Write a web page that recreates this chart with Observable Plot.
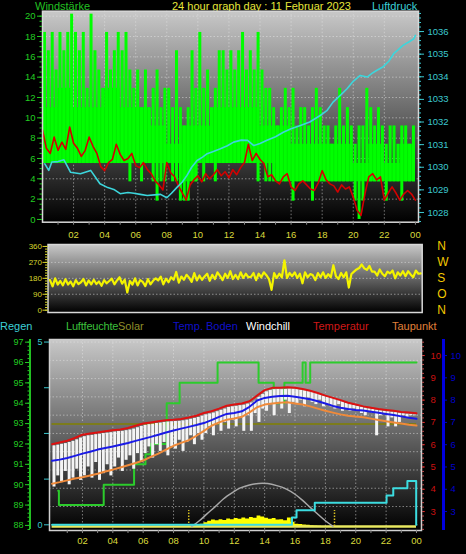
<!DOCTYPE html>
<html><head><meta charset="utf-8">
<script src="https://cdn.jsdelivr.net/npm/d3@7"></script>
<script src="https://cdn.jsdelivr.net/npm/@observablehq/plot@0.6"></script>
<style>
html,body{margin:0;padding:0;background:#000}
body{width:466px;height:554px;position:relative;overflow:hidden;font-family:"Liberation Sans",Arial,sans-serif}
.t{position:absolute;white-space:nowrap;line-height:12px;font-size:11px}
.panel{position:absolute;left:0;width:466px}
.panel svg{position:absolute;left:0;top:0}
.bar{position:absolute}
</style></head><body>
<div class="t" style="left:35px;top:0px;color:#22c022">Windstärke</div>
<div class="t" style="left:172px;top:0px;color:#e6e63a">24 hour graph day : 11 Februar 2023</div>
<div class="t" style="left:372px;top:0px;color:#3ccfd6">Luftdruck</div>
<div id="top" class="panel" style="top:0;height:245px"></div>
<div id="mid" class="panel" style="top:236px;height:80px"></div>
<div class="t" style="left:0;top:320px;color:#3ccfd6">Regen</div>
<div class="t" style="left:66px;top:320px;color:#3cc03c;letter-spacing:-0.2px">Luftfeuchte</div>
<div class="t" style="left:118px;top:320px;color:#8f8f2a">Solar</div>
<div class="t" style="left:173px;top:320px;color:#1010c8">Temp. Boden</div>
<div class="t" style="left:246px;top:320px;color:#ffffff">Windchill</div>
<div class="t" style="left:313px;top:320px;color:#d01818">Temperatur</div>
<div class="t" style="left:392px;top:320px;color:#e0803a">Taupunkt</div>
<div id="bot" class="panel" style="top:332px;height:222px"></div>
<div class="bar" style="left:29px;top:339px;width:2px;height:190px;background:#22c022"></div>
<div class="bar" style="left:442px;top:339px;width:2.5px;height:191px;background:#0000e0"></div>
<script>
const FONT = '"Liberation Sans", Arial, sans-serif';

// ---------- shared ticks ----------
const hourLabels = [2,4,6,8,10,12,14,16,18,20,22,24];
const hourGrid = [2,4,6,8,10,12,14,16,18,20,22];
const hourMinor = d3.range(1, 25);
const fmtHour = d => String(d % 24).padStart(2, "0");

// ---------- top panel: Windstärke (15-min bins) ----------
const gustHi = [
 18.4,16.6,18.4,14.7,18.4,16.6,18.4,20.2,18.4,16.6,18.4,12.9,
 20.2,16.6,14.7,12.9,18.4,14.7,16.6,18.4,16.6,18.4,14.7,12.9,
 14.7,11.0,14.7,11.0,12.9,14.7,11.0,12.9,12.9,11.0,16.6,11.0,
 9.2,11.0,16.6,12.9,18.4,12.9,14.7,11.0,12.9,16.6,16.6,14.7,
 16.6,14.7,16.6,18.4,14.7,16.6,14.7,18.4,14.7,12.9,12.9,11.0,
 9.2,11.0,12.9,11.0,12.9,9.2,11.0,11.0,9.2,11.0,12.9,11.0,
 9.2,9.2,7.4,9.2,12.9,9.2,11.0,9.2,7.4,9.2,9.2,12.9,
 11.0,9.2,11.0,9.2,7.4,9.2,9.2,7.4,9.2,9.2,7.4,9.2];
const gustLo = [
 5.5,5.5,5.5,5.5,5.5,5.5,5.5,5.5,5.5,5.5,5.5,5.5,
 5.5,5.5,5.5,5.5,5.5,5.5,5.5,5.5,5.5,5.5,3.7,5.5,
 5.5,3.7,5.5,5.5,3.7,1.8,3.7,3.7,5.5,3.7,3.7,1.8,
 1.8,1.8,3.7,3.7,5.5,3.7,5.5,5.5,3.7,5.5,5.5,5.5,
 5.5,5.5,5.5,5.5,5.5,5.5,5.5,3.7,5.5,3.7,3.7,3.7,
 3.7,3.7,3.7,3.7,1.8,3.7,3.7,3.7,3.7,1.8,3.7,3.7,
 3.7,3.7,3.7,3.7,3.7,3.7,3.7,3.7,1.8,0.0,1.8,3.7,
 3.7,3.7,3.7,3.7,1.8,3.7,3.7,3.7,1.8,3.7,3.7,3.7];
// hourly dense band of the gust trace
const gustBase = [5.5,5.5,5.5,5.5,5.5,5.5,5.5,5.5,5.5,3.7,5.5,5.5,5.5,5.5,5.5,3.7,3.7,3.7,3.7,3.7,3.7,3.7,3.7,3.7];
const gustTop  = [11.0,12.9,11.0,11.0,12.9,11.0,11.0,9.2,7.4,9.2,9.2,11.0,11.0,11.0,9.2,9.2,7.4,7.4,7.4,7.4,5.5,7.4,5.5,7.4];
// mean wind (red), every 15 min
const windAvgV = [
 8.8,7.0,6.5,8.1,6.8,7.6,6.9,9.1, 7.5,7.0,6.2,6.8,8.1,7.2,6.5,5.2,
 4.8,5.6,5.9,7.4,6.4,5.8,6.0,6.5, 5.3,5.1,5.6,4.9,4.5,3.8,3.4,2.9,
 5.6,4.6,4.2,3.3,2.6,1.9,3.4,3.9, 4.3,3.7,4.5,4.0,4.4,4.9,4.3,4.7,
 4.1,4.9,4.4,5.1,5.6,7.4,5.8,6.5, 5.9,5.5,4.2,4.4,3.8,3.5,4.2,4.5,
 3.2,2.85,3.5,3.8,3.4,3.0,2.85,3.6, 4.8,3.9,3.5,3.3,2.7,3.4,3.0,3.2,
 2.2,0.9,0.4,2.5,4.2,4.5,3.9,4.2, 1.9,2.6,3.2,2.6,1.9,2.5,2.85,2.5,
 1.9];
// Luftdruck (cyan)
const pressT = [0.15,0.4,0.6,1.0,1.38,1.8,2.44,3.1,3.7,4.2,4.59,5.0,5.5,5.88,6.3,6.74,7.2,7.6,8.0,8.3,8.67,9.0,9.3,9.6,9.95,10.3,10.6,11.0,11.45,11.9,12.3,12.8,13.2,13.6,14.0,14.45,15.0,15.5,16.0,16.6,17.2,17.9,18.3,18.7,19.2,19.6,20.0,20.45,20.9,21.2,21.5,21.9,22.3,22.6,22.9,23.2,23.6,23.9,24.0];
const pressV = [1030.15,1029.86,1030.23,1030.25,1030.33,1029.78,1029.71,1029.86,1029.27,1029.1,1029.02,1028.83,1028.88,1028.85,1028.8,1028.75,1028.78,1028.8,1028.65,1028.85,1029.12,1029.35,1029.64,1030.0,1030.3,1030.45,1030.6,1030.7,1030.82,1030.95,1031.11,1031.2,1031.19,1030.96,1031.05,1031.19,1031.35,1031.55,1031.7,1031.85,1032.0,1032.3,1032.5,1032.88,1033.2,1033.47,1033.8,1034.06,1033.99,1034.15,1034.28,1034.43,1034.7,1035.02,1035.2,1035.39,1035.55,1035.68,1035.83];

// ---------- middle panel: Windrichtung (10-min) ----------
const windDir = [
 170,135,180,145,165,140, 175,145,162,135,170,148, 158,176,140,168,146,172, 148,162,138,170,152,165,
 178,146,168,186,150,172, 100,165,145,180,140,170, 160,136,176,146,166,180, 168,190,146,178,158,186,
 172,216,156,190,172,200, 184,160,210,168,196,172, 190,206,166,200,176,214, 194,170,206,182,220,176,
 200,176,214,182,206,186, 188,210,170,206,186,214, 198,176,115,210,182,206, 186,282,182,210,192,214,
 182,206,152,214,186,204, 198,170,210,186,214,182, 204,186,254,192,176,210, 186,214,128,204,218,230,
 238,258,236,228,250,218, 218,196,230,206,192,218, 208,224,180,214,196,220, 192,220,202,186,224,206,
 208];
const dirLabels = {0:"N", 90:"O", 180:"S", 270:"W", 360:"N"};

// ---------- bottom panel ----------
// half-hourly temperatures
const temperatur = [6.02,6.10,6.18,6.30,6.45,6.50,6.55,6.60,6.65,6.68,6.75,6.85,6.95,7.00,7.05,7.10,7.12,7.15,7.22,7.30,7.42,7.50,7.62,7.75,7.80,7.85,7.95,8.20,8.45,8.55,8.55,8.58,8.55,8.50,8.42,8.32,8.20,8.10,8.00,7.88,7.80,7.72,7.66,7.60,7.56,7.52,7.47,7.44,7.41];
const tempBoden = [5.28,5.33,5.40,5.50,5.60,5.68,5.78,5.85,5.92,6.00,6.08,6.17,6.26,6.35,6.45,6.55,6.64,6.72,6.80,6.88,6.97,7.10,7.25,7.38,7.42,7.50,7.70,7.98,8.10,8.15,8.18,8.20,8.15,8.10,8.04,7.95,7.85,7.74,7.66,7.60,7.56,7.53,7.48,7.43,7.38,7.33,7.27,7.21,7.16];
const taupunkt = [4.25,4.32,4.40,4.48,4.54,4.62,4.70,4.80,4.88,4.98,5.08,5.18,5.29,5.45,5.60,5.78,5.95,6.08,6.20,6.40,6.62,6.85,7.00,7.12,7.18,7.25,7.45,7.68,7.80,7.85,7.88,7.90,7.85,7.80,7.72,7.62,7.52,7.44,7.36,7.30,7.26,7.23,7.17,7.11,7.05,7.00,6.95,6.90,6.86];
// windchill range per 15-min
const windchillHi = [
 5.95,5.98,6.02,6.05,6.10,6.15,6.22,6.30, 6.36,6.40,6.42,6.45,6.47,6.50,6.52,6.54,
 6.57,6.59,6.60,6.63,6.66,6.70,6.76,6.82, 6.87,6.90,6.92,6.95,6.97,7.00,7.02,7.03,
 7.04,7.05,7.07,7.10,7.14,7.18,7.22,7.28, 7.34,7.38,7.42,7.48,7.54,7.60,7.67,7.70,
 7.72,7.75,7.77,7.82,7.87,7.95,8.12,8.25, 8.37,8.43,8.47,8.48,8.47,8.48,8.50,8.49,
 8.47,8.44,8.42,8.38,8.34,8.29,8.24,8.18, 8.12,8.07,8.02,7.97,7.92,7.86,7.80,7.76,
 7.72,7.68,7.64,7.61,7.58,7.55,7.52,7.50, 7.48,7.46,7.44,7.42,7.39,7.37,7.35,7.33];
const windchillLo = [
 4.1,4.6,4.3,4.8,4.2,4.5,4.9,4.4, 4.6,5.0,4.5,5.2,4.4,4.7,5.1,4.6,
 5.0,5.4,4.8,5.3,5.5,4.9,5.6,5.2, 5.6,5.9,5.4,6.0,5.7,6.1,5.5,5.9,
 5.8,6.2,5.7,6.1,6.4,6.0,6.5,6.2, 6.5,6.8,6.4,6.9,6.6,7.0,6.7,7.1,
 6.8,7.2,6.6,7.3,6.6,7.4,7.0,7.6, 7.5,7.8,7.3,7.9,7.6,8.0,7.4,7.9,
 7.8,8.0,7.7,8.1,7.9,7.8,8.0,7.7, 7.8,7.7,7.6,7.8,7.5,7.6,7.5,7.6,
 7.5,7.4,7.3,7.5,7.4,6.4,7.3,7.4, 6.8,7.2,6.8,7.0,7.3,7.2,7.3,7.3];
// Luftfeuchte steps
const luftfeuchteT = [0.4,0.45,3.4,5.4,6.15,6.5,7.55,8.4,10.9,13.6,14.6,15.3,16.5,16.7,17.0,24.0];
const luftfeuchteV = [89.7,89,90,91,91.5,92,94,95,96,95,94,95,96,95,96,96];
// Regen steps (mm)
const regenT = [0,15.8,16.1,17.3,22.03,22.47,23.4,23.98,24.0];
const regenV = [0,0.2,0.4,0.6,0.8,1.0,1.2,0,0];
// Solar (W/m², every 15 min from 09:00)
const solarV = [0,2,6,12,20,28,34,30,36,32,40,36,42,38,45,40,48,44,55,50,44,38,42,34,36,30,45,22,12,10,8,6,4,2,1,0,0];
const solarMaxT = [9.2,9.7,10.2,10.8,11.3,11.9,12.4,13.0,13.6,14.2,14.8,15.4,16.0,16.5,17.0,17.6,18.0,18.5];
const solarMaxV = [0,30,67,110,148,182,206,222,230,229,218,201,172,139,102,58,30,0];
const sunEvents = [9.0, 18.6];
const solarRef = [548];

// ---------- tables ----------
const gust = gustHi.map((h, i) => ({t: i / 4 + 0.125, lo: gustLo[i], hi: h}));
const gustBand = gustBase.map((b, i) => ({t: i, lo: b, hi: gustTop[i]})).concat([{t: 24, lo: gustBase[23], hi: gustTop[23]}]);
const windAvg = windAvgV.map((v, i) => ({t: i / 4, v}));
const press = pressT.map((t, i) => ({t, v: pressV[i]}));
const dir = windDir.map((v, i) => ({t: i / 6, v}));
const half = (arr) => arr.map((v, i) => ({t: i / 2, v}));
const wc = windchillHi.map((h, i) => ({t: i / 4 + 0.125, lo: windchillLo[i], hi: h}));
const hum = luftfeuchteT.map((t, i) => ({t, v: luftfeuchteV[i]}));
const rain = regenT.map((t, i) => ({t, v: regenV[i]}));
const solar = solarV.map((v, i) => ({t: 9 + i / 4, v}));
const solarMax = solarMaxT.map((t, i) => ({t, v: solarMaxV[i]}));

// ---------- helpers ----------
function addGrad(svg, id) {
  const defs = d3.select(svg).insert("defs", ":first-child");
  const g = defs.append("linearGradient").attr("id", id).attr("x1", 0).attr("y1", 0).attr("x2", 0).attr("y2", 1);
  g.append("stop").attr("offset", "0%").attr("stop-color", "#c8c8c8");
  g.append("stop").attr("offset", "100%").attr("stop-color", "#000000");
}
function layer(host, d, o) {
  const svg = Plot.plot({
    width: 466, height: d.h,
    marginTop: d.mt, marginBottom: d.mb, marginLeft: d.ml, marginRight: d.mr,
    x: o.xAxis ? {domain: d.xd} : {domain: d.xd, axis: null},
    y: o.yAxis ? {domain: o.yd} : {domain: o.yd, axis: null},
    style: {background: "transparent", fontFamily: FONT, overflow: "visible"},
    marks: o.marks
  });
  if (o.grad) addGrad(svg, o.grad);
  document.getElementById(host).appendChild(svg);
}
const gridStyle = {stroke: "#e8e8e8", strokeOpacity: 0.5, strokeDasharray: "1.5,2", strokeWidth: 1};
const blank = () => "";
const plain = d => String(d);

// ---------- top panel ----------
const TOP = {h: 245, mt: 10.7, mb: 23.3, ml: 42, mr: 48, xd: [0, 24.2]};
layer("top", TOP, {
  grad: "gTop", xAxis: true, yAxis: true, yd: [-0.27, 20.49],
  marks: [
    Plot.frame({fill: "url(#gTop)"}),
    Plot.ruleY(d3.range(2, 21, 2), gridStyle),
    Plot.ruleX(hourGrid, gridStyle),
    Plot.areaY(gustBand, {x: "t", y1: "lo", y2: "hi", curve: "step-after", fill: "#00e800"}),
    Plot.ruleX(gust, {x: "t", y1: "lo", y2: "hi", stroke: "#00ff00", strokeWidth: 3}),
    Plot.line(windAvg, {x: "t", y: "v", stroke: "#d40000", strokeWidth: 1.6}),
    Plot.frame({stroke: "#d8d8d8", strokeWidth: 1.5}),
    Plot.axisY(d3.range(0, 21, 2), {anchor: "left", tickSize: 5, tickPadding: 2, tickFormat: plain, color: "#22cc22", fontSize: 9.5, label: null}),
    Plot.axisY(d3.range(0, 20.01, 0.5), {anchor: "left", tickSize: 2.5, tickFormat: blank, color: "#22cc22", label: null}),
    Plot.axisX(hourMinor, {anchor: "bottom", tickSize: 3, tickFormat: blank, color: "#8a8a8a", label: null}),
    Plot.axisX(hourLabels, {anchor: "bottom", tickSize: 0, tickPadding: 9, tickFormat: fmtHour, color: "#dada3c", fontSize: 9.5, label: null})
  ]
});
layer("top", TOP, {
  yAxis: true, yd: [1027.57, 1036.9],
  marks: [
    Plot.line(press, {x: "t", y: "v", stroke: "#3cd6dc", strokeWidth: 1.6}),
    Plot.axisY(d3.range(1028, 1037), {anchor: "right", tickSize: 5, tickPadding: 4, tickFormat: plain, color: "#3cc8d0", fontSize: 9.5, label: null}),
    Plot.axisY(d3.range(1027.6, 1036.9, 0.2), {anchor: "right", tickSize: 2, tickFormat: blank, color: "#3cc8d0", label: null})
  ]
});

// ---------- middle panel ----------
const MID = {h: 80, mt: 8, mb: 4, ml: 47.5, mr: 44.3, xd: [-0.13, 24.08]};
layer("mid", MID, {
  grad: "gMid", yAxis: true, yd: [-13, 371],
  marks: [
    Plot.frame({fill: "url(#gMid)"}),
    Plot.ruleY([90, 180, 270], gridStyle),
    Plot.line(dir, {x: "t", y: "v", stroke: "#f4f400", strokeWidth: 2.2}),
    Plot.frame({stroke: "#d8d8d8", strokeWidth: 1.5}),
    Plot.axisY([0, 90, 180, 270, 360], {anchor: "left", tickSize: 5, tickPadding: 1, tickFormat: plain, color: "#d6d62c", fontSize: 8, label: null}),
    Plot.axisY(d3.range(0, 361, 15), {anchor: "left", tickSize: 2.5, tickFormat: blank, color: "#d6d62c", label: null}),
    Plot.axisY([0, 90, 180, 270, 360], {anchor: "right", tickSize: 0, tickPadding: 15, tickFormat: d => dirLabels[d], color: "#f2c800", fontSize: 12, label: null})
  ]
});

// ---------- bottom panel ----------
const BOT = {h: 222, mt: 7, mb: 24, ml: 49, mr: 45, xd: [-0.17, 24.33]};
const RAIN_DOMAIN = [-0.156, 5.07];
layer("bot", BOT, {
  grad: "gBot", xAxis: true, yd: RAIN_DOMAIN,
  marks: [
    Plot.frame({fill: "url(#gBot)"}),
    Plot.ruleY(d3.range(0.5, 5.01, 0.5), gridStyle),
    Plot.ruleX(hourGrid, gridStyle),
    Plot.frame({stroke: "#d0d0d0", strokeWidth: 1.5}),
    Plot.axisX(hourMinor, {anchor: "bottom", tickSize: 3, tickFormat: blank, color: "#8a8a8a", label: null}),
    Plot.axisX(hourLabels, {anchor: "bottom", tickSize: 0, tickPadding: 7, tickFormat: fmtHour, color: "#dada3c", fontSize: 9.5, label: null})
  ]
});
layer("bot", BOT, {
  yd: [-22, 1000],
  marks: [
    Plot.ruleY(solarRef, {x1: 0, x2: 24, stroke: "#7c7c1c", strokeWidth: 2}),
    Plot.areaY(solar, {x: "t", y: "v", curve: "step-after", fill: "#ffff00"}),
    Plot.ruleY([0], {x1: 0, x2: 24, stroke: "#e8e860", strokeWidth: 2.5}),
    Plot.line(solarMax, {x: "t", y: "v", curve: "natural", stroke: "#a8a8a8", strokeWidth: 1.5}),
    Plot.ruleX(sunEvents, {y1: 0, y2: 85, stroke: "#d8c020", strokeDasharray: "1.5,1.5", strokeWidth: 1.5})
  ]
});
layer("bot", BOT, {
  yAxis: true, yd: [87.75, 97.13],
  marks: [
    Plot.line(hum, {x: "t", y: "v", curve: "step-after", stroke: "#2ccc2c", strokeWidth: 2}),
    Plot.axisY(d3.range(88, 98), {anchor: "left", dx: -19, tickSize: 5, tickPadding: 2, tickFormat: plain, color: "#22cc22", fontSize: 9, label: null}),
    Plot.axisY(d3.range(87.8, 97.1, 0.2), {anchor: "left", dx: -19, tickSize: 2.5, tickFormat: blank, color: "#22cc22", label: null})
  ]
});
layer("bot", BOT, {
  yAxis: true, yd: [2.15, 10.72],
  marks: [
    Plot.ruleX(wc, {x: "t", y1: "lo", y2: "hi", stroke: "#f4f4f4", strokeWidth: 3}),
    Plot.line(half(taupunkt), {x: "t", y: "v", stroke: "#f08a3a", strokeWidth: 2}),
    Plot.line(half(tempBoden), {x: "t", y: "v", stroke: "#1a1ae6", strokeWidth: 2}),
    Plot.line(half(temperatur), {x: "t", y: "v", stroke: "#dd1111", strokeWidth: 2}),
    Plot.axisY(d3.range(3, 11), {anchor: "right", tickSize: 3, tickPadding: 6, tickFormat: plain, color: "#cc1111", fontSize: 9.5, label: null}),
    Plot.axisY(d3.range(2.2, 10.7, 0.2), {anchor: "right", tickSize: 2, tickFormat: blank, color: "#c05050", label: null}),
    Plot.axisY(d3.range(3, 11), {anchor: "right", dx: 22, tickSize: 3, tickPadding: 4, tickFormat: plain, color: "#0000cc", fontSize: 9.5, label: null})
  ]
});
layer("bot", BOT, {
  yAxis: true, yd: RAIN_DOMAIN,
  marks: [
    Plot.line(rain, {x: "t", y: "v", curve: "step-after", stroke: "#3cdce0", strokeWidth: 2}),
    Plot.axisY([0, 1.25, 2.5, 3.75, 5], {anchor: "left", tickSize: 5, tickPadding: 2, tickFormat: d => (d === 0 || d === 5) ? String(d) : "", color: "#3cc8d0", fontSize: 9, label: null})
  ]
});
</script>
</body></html>
